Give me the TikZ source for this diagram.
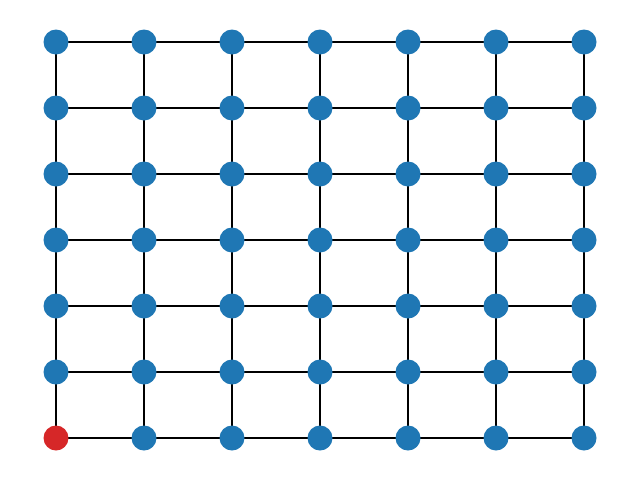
\documentclass[tikz,border=0pt]{standalone}
\definecolor{tabblue}{HTML}{1F77B4}
\definecolor{tabred}{HTML}{D62728}
\begin{document}
\begin{tikzpicture}[x=1pt,y=-1pt,
  vert/.style={circle,fill=tabblue,draw=none,minimum size=25pt,inner sep=0pt},
  root/.style={circle,fill=tabred,draw=none,minimum size=25pt,inner sep=0pt},
  edge/.style={black,line width=1.3pt}]
\useasboundingbox (0,0) rectangle (640,480);
\foreach \i in {0,...,6}{
  \foreach \j in {0,...,6}{
    \pgfmathsetmacro{\xx}{56+88*\i}
    \pgfmathsetmacro{\yy}{42+66*\j}
    \coordinate (c-\i-\j) at (\xx,\yy);
  }
}
\foreach \i in {0,...,6}{
  \foreach \j [evaluate=\j as \jn using int(\j+1)] in {0,...,5}{
    \draw[edge] (c-\i-\j) -- (c-\i-\jn);
    \draw[edge] (c-\j-\i) -- (c-\jn-\i);
  }
}
\foreach \i in {0,...,6}{
  \foreach \j in {0,...,6}{
    \ifnum\i=0 \ifnum\j=6 \node[root] (n-\i-\j) at (c-\i-\j) {}; \else \node[vert] (n-\i-\j) at (c-\i-\j) {}; \fi
    \else \node[vert] (n-\i-\j) at (c-\i-\j) {}; \fi
  }
}
\end{tikzpicture}
\end{document}
